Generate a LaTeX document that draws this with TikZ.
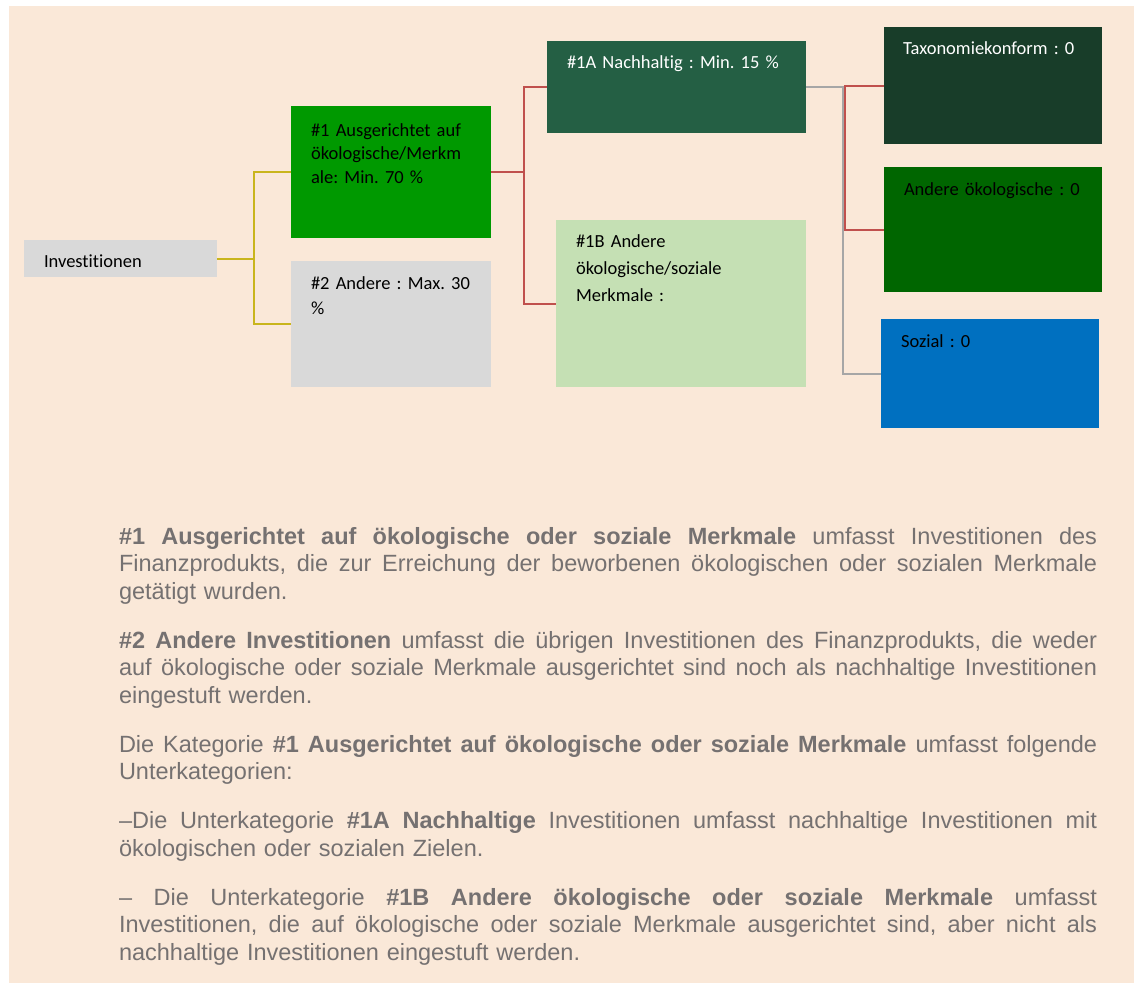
\documentclass[tikz,border=0pt]{standalone}
\usepackage{fontspec}
\newfontfamily\boxfont[Ligatures=NoCommon]{Carlito}
\newfontfamily\parafont{Liberation Sans}
\definecolor{bgpeach}{HTML}{FAE8D8}
\definecolor{boxgray}{HTML}{D9D9D9}
\definecolor{green1}{HTML}{009900}
\definecolor{green1a}{HTML}{245F44}
\definecolor{green1b}{HTML}{C5E0B4}
\definecolor{greentaxo}{HTML}{183D29}
\definecolor{greenother}{HTML}{006600}
\definecolor{bluesoc}{HTML}{0070C0}
\definecolor{lineyellow}{HTML}{C9B51C}
\definecolor{linered}{HTML}{C0504D}
\definecolor{linegray}{HTML}{A6A6A6}
\definecolor{paratext}{HTML}{757171}
\newcommand{\bxf}[1]{\boxfont\fontsize{18.5}{#1}\selectfont\frenchspacing}
\newcommand{\jline}[1]{\leavevmode\hbox to 978pt{#1}}
\newcommand{\js}{\hskip 6.5pt plus 1fil\relax}
\begin{document}
\begin{tikzpicture}[x=1pt,y=-1pt,
  box/.style={rectangle, inner sep=0pt, outer sep=0pt, anchor=north west, draw=none},
  boxtxt/.style={inner sep=0pt, outer sep=0pt, anchor=base west, text width=250pt, align=left, font=\bxf{#1}},
  boxtxt/.default=22,
  conn/.style={line width=2pt},
  ]
\useasboundingbox (0,0) rectangle (1134,983);
\fill[bgpeach] (9,6) rectangle (1134,983);

% boxes
\node[box, fill=boxgray, minimum width=193pt, minimum height=37pt] (inv) at (24,240) {};
\node[box, fill=green1, minimum width=200pt, minimum height=132pt] (n1) at (291,106) {};
\node[box, fill=boxgray, minimum width=200pt, minimum height=126pt] (n2) at (291,261) {};
\node[box, fill=green1a, minimum width=259pt, minimum height=92pt] (n1a) at (547,41) {};
\node[box, fill=green1b, minimum width=250pt, minimum height=167pt] (n1b) at (556,220) {};
\node[box, fill=greentaxo, minimum width=218pt, minimum height=117pt] (taxo) at (884,27) {};
\node[box, fill=greenother, minimum width=218pt, minimum height=125pt] (andere) at (884,167) {};
\node[box, fill=bluesoc, minimum width=218pt, minimum height=109pt] (sozial) at (881,319) {};

% connectors
\draw[conn, lineyellow] (inv.east) -- ++(37,0) |- (n1.west);
\draw[conn, lineyellow] (inv.east) -- ++(37,0) |- (n2.west);
\draw[conn, linered] (n1.east) -- ++(33,0) |- (n1a.west);
\draw[conn, linered] (n1.east) -- ++(33,0) |- (n1b.west);
\draw[conn, linegray] (n1a.east) -- ++(37,0) |- (sozial.west);
\draw[conn, linered] (taxo.west) -- ++(-39,0) |- (andere.west);

% box texts
\node[boxtxt] (invt) at (44,267) {Investitionen};
\node[boxtxt=23.5] (n1t) at (311,136) {\#1 Ausgerichtet auf\\ökologische/Merkm\\ale: Min. 70 \%};
\node[boxtxt=25] (n2t) at (311,289) {\#2 Andere : Max. 30\\\%};
\node[boxtxt, text=white] (n1at) at (567,68) {\#1A Nachhaltig : Min. 15 \%};
\node[boxtxt=27] (n1bt) at (576,247) {\#1B Andere\\ökologische/soziale\\Merkmale :};
\node[boxtxt, text=white] (taxot) at (903,54) {Taxonomiekonform : 0};
\node[boxtxt] (anderet) at (904,195) {Andere ökologische : 0};
\node[boxtxt] (sozialt) at (901,347) {Sozial : 0};

% explanatory text
\node[inner sep=0pt, outer sep=0pt, anchor=base west, text width=978pt, align=left, text=paratext,
  font={\parafont\fontsize{23.5}{27.5}\selectfont\frenchspacing}] (expl) at (119,544) {%
\jline{\textbf{\#1\js Ausgerichtet\js auf\js ökologische\js oder\js soziale\js Merkmale}\js umfasst\js Investitionen\js des}\\
\jline{Finanzprodukts,\js die\js zur\js Erreichung\js der\js beworbenen\js ökologischen\js oder\js sozialen\js Merkmale}\\
getätigt wurden.\\[21.5pt]
\jline{\textbf{\#2\js Andere\js Investitionen}\js umfasst\js die\js übrigen\js Investitionen\js des\js Finanzprodukts,\js die\js weder}\\
\jline{auf\js ökologische\js oder\js soziale\js Merkmale\js ausgerichtet\js sind\js noch\js als\js nachhaltige\js Investitionen}\\
eingestuft werden.\\[21.5pt]
\jline{Die\js Kategorie\js \textbf{\#1\js Ausgerichtet\js auf\js ökologische\js oder\js soziale\js Merkmale}\js umfasst\js folgende}\\
Unterkategorien:\\[21.5pt]
\jline{–Die\js Unterkategorie\js \textbf{\#1A\js Nachhaltige}\js Investitionen\js umfasst\js nachhaltige\js Investitionen\js mit}\\
ökologischen oder sozialen Zielen.\\[21.5pt]
\jline{–\js Die\js Unterkategorie\js \textbf{\#1B\js Andere\js ökologische\js oder\js soziale\js Merkmale}\js umfasst}\\
\jline{Investitionen,\js die\js auf\js ökologische\js oder\js soziale\js Merkmale\js ausgerichtet\js sind,\js aber\js nicht\js als}\\
nachhaltige Investitionen eingestuft werden.};
\end{tikzpicture}
\end{document}
